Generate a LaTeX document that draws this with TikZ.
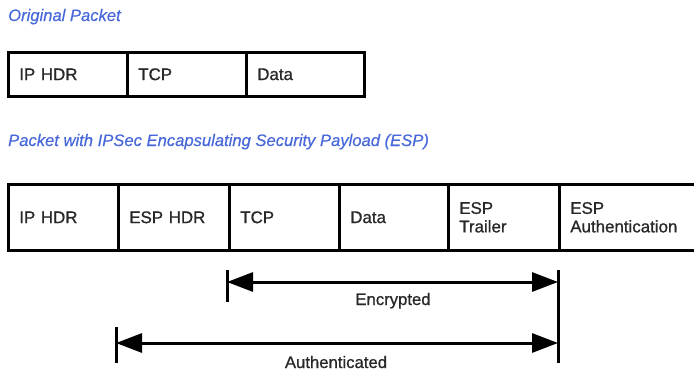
\documentclass[tikz,border=0pt]{standalone}
\usepackage{fontspec}
\setmainfont{Liberation Sans}
\newfontfamily\heavyfont{Liberation Sans}[FakeBold=0.9]
\newfontfamily\titlefont{Liberation Sans Italic}[FakeBold=0.4]
\usetikzlibrary{arrows.meta}
\definecolor{titleblue}{RGB}{72,104,218}
\definecolor{ink}{RGB}{40,40,40}
\begin{document}
\begin{tikzpicture}[x=1pt,y=-1pt,
  cell/.style={draw=black, line width=2.6pt, anchor=north west, inner xsep=11pt,
    inner ysep=0pt, align=left, text=ink, font=\heavyfont\fontsize{16.9}{18.5}\selectfont},
  title/.style={anchor=base west, inner sep=0pt, text=titleblue,
    font=\titlefont\fontsize{16.6}{18}\selectfont},
  lbl/.style={anchor=base, inner sep=0pt, text=ink, font=\heavyfont\fontsize{16.7}{18}\selectfont},
  dim/.style={line width=3pt, {Triangle[length=26pt,width=19pt]}-{Triangle[length=26pt,width=19pt]}},
  tick/.style={line width=3pt}
]
\useasboundingbox (0,0) rectangle (694,372);
% titles
\node[title] (t1) at (8,21) {Original Packet};
\node[title] (t2) at (8,146) {Packet with IPSec Encapsulating Security Payload (ESP)};
% original packet
\node[cell, minimum width=119pt, text width=97pt, minimum height=44pt] (o1) at (7,51) {IP HDR};
\node[cell, minimum width=119pt, text width=97pt, minimum height=44pt] (o2) at (126,51) {TCP};
\node[cell, minimum width=118pt, text width=96pt, minimum height=44pt] (o3) at (245,51) {Data};
% ESP packet
\node[cell, minimum width=110pt, text width=88pt, minimum height=66pt] (p1) at (7,183) {IP HDR};
\node[cell, minimum width=111pt, text width=89pt, minimum height=66pt] (p2) at (117,183) {ESP HDR};
\node[cell, minimum width=110pt, text width=88pt, minimum height=66pt] (p3) at (228,183) {TCP};
\node[cell, minimum width=109pt, text width=87pt, minimum height=66pt] (p4) at (338,183) {Data};
\node[cell, minimum width=111pt, text width=89pt, minimum height=66pt] (p5) at (447,183) {ESP\\Trailer};
\node[cell, minimum width=145pt, text width=123pt, minimum height=66pt] (p6) at (558,183) {ESP\\Authentication};
% dimension lines
\coordinate (eT) at (227,270);
\coordinate (eB) at (227,302);
\coordinate (aT) at (116,327);
\coordinate (aB) at (116,363);
\coordinate (rT) at (558,270);
\coordinate (rB) at (558,363);
\coordinate (eL) at (227,282);
\coordinate (eR) at (558,282);
\coordinate (aL) at (116,343);
\coordinate (aR) at (558,343);
\draw[tick] (eT) -- (eB);
\draw[tick] (aT) -- (aB);
\draw[tick] (rT) -- (rB);
\draw[dim] (eL) -- (eR);
\draw[dim] (aL) -- (aR);
\node[lbl] (enc) at (393,305) {Encrypted};
\node[lbl] (auth) at (336,368) {Authenticated};
\end{tikzpicture}
\end{document}
